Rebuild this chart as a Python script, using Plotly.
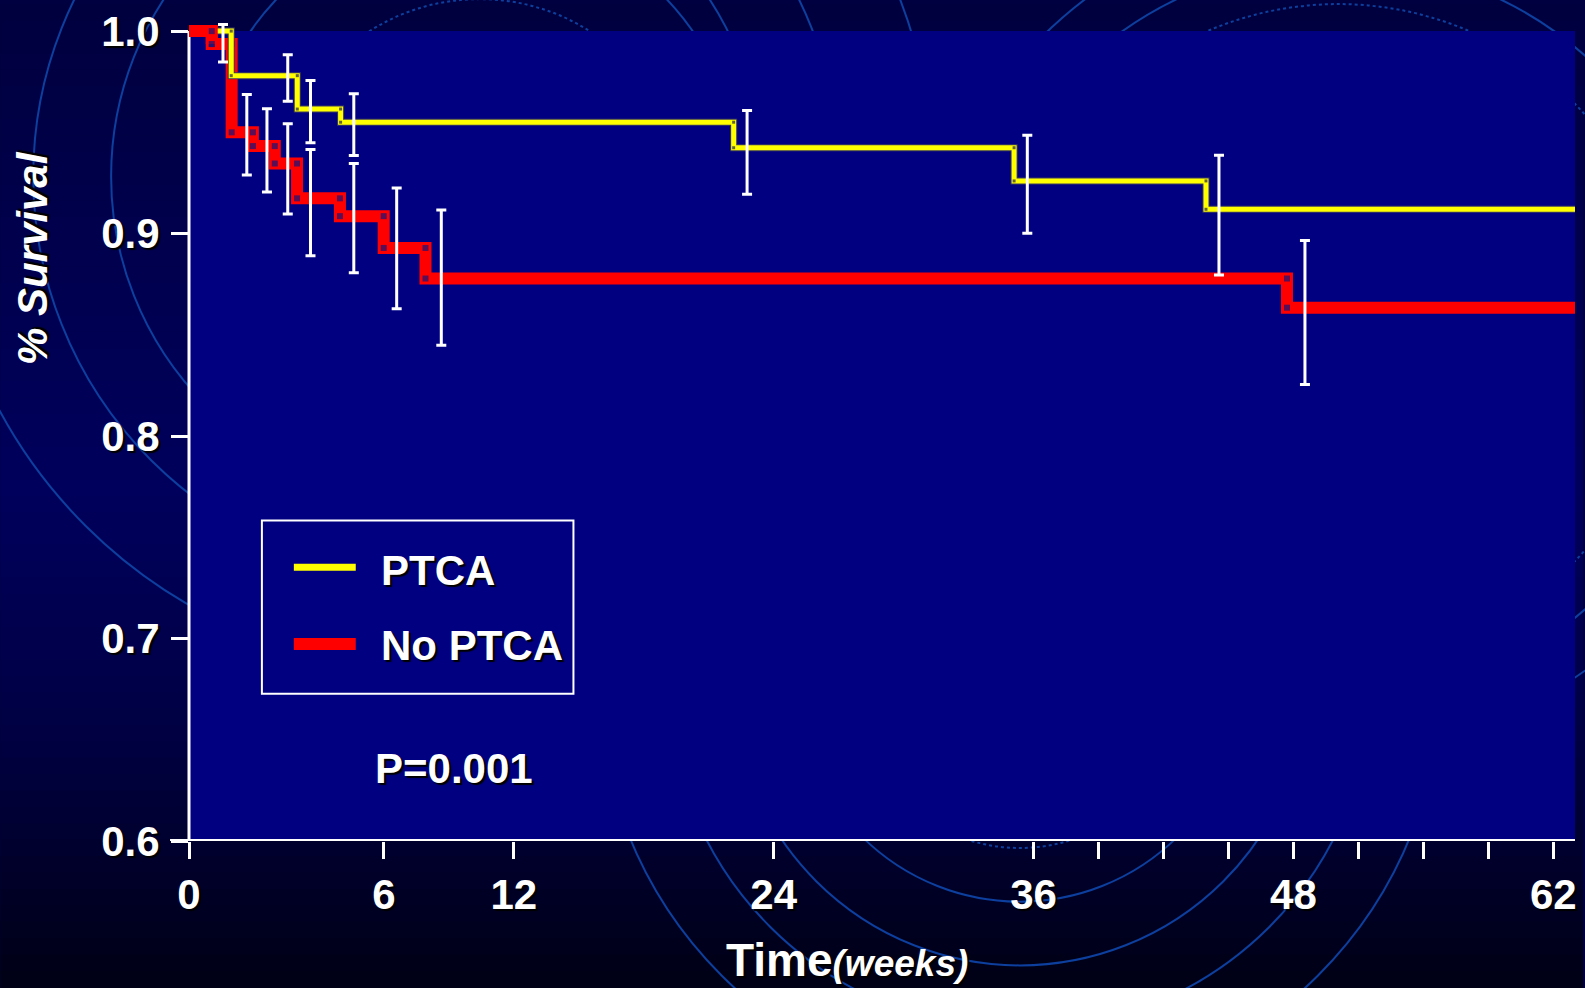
import plotly.graph_objects as go

# ---------------- DATA ----------------
# Time is given in the slide's own (linear) axis units: tick labels
# "0, 6, 12, 24, 36, 48, 62" sit at positions 0, 9, 15, 27, 39, 51, 63.
ptca_time = [1.95, 5.0, 7.0, 25.15, 38.1, 46.96]
ptca_surv = [0.978, 0.9615, 0.955, 0.9424, 0.926, 0.912]

noptca_time = [1.05, 1.97, 2.95, 3.96, 4.99, 6.97, 8.99, 10.92, 50.7]
noptca_surv = [0.9936, 0.950, 0.9432, 0.9346, 0.9174, 0.9086, 0.8929, 0.8778, 0.8634]

follow_up_end = 64

ptca_err_time = [4.56, 5.61, 7.61, 25.77, 38.71, 47.56]
ptca_err_center = [0.9768, 0.9602, 0.9538, 0.9401, 0.9244, 0.9091]
ptca_err_half = [0.0115, 0.0154, 0.0152, 0.0207, 0.0242, 0.0296]

noptca_err_time = [1.57, 2.67, 3.60, 4.56, 5.61, 7.61, 9.59, 11.65, 51.53]
noptca_err_center = [0.994, 0.9488, 0.9411, 0.932, 0.9153, 0.9076, 0.8927, 0.8783, 0.861]
noptca_err_half = [0.0092, 0.0199, 0.0206, 0.0223, 0.0262, 0.027, 0.0298, 0.0334, 0.0356]

x_tick_pos = [0, 9, 15, 27, 39, 42, 45, 48, 51, 54, 57, 60, 63]
x_tick_text = ["0", "6", "12", "24", "36", "", "", "", "48", "", "", "", "62"]
y_tick_vals = [0.6, 0.7, 0.8, 0.9, 1.0]

series_names = ["PTCA", "No PTCA"]
p_value_text = "P=0.001"
y_title = "% Survival"
x_title_main = "Time"
x_title_unit = "(weeks)"

# ---------------- LAYOUT CONSTANTS ----------------
W, H = 1585, 988
ML, MR, MT, MB = 189, 8, 19, 147
PW, PH = W - ML - MR, H - MT - MB
FONT = "Arial, 'Liberation Sans', sans-serif"
SHADOW = "2px 2px 1px #000000"
YELLOW, RED, WHITE = "#FFFF00", "#FF0000", "#FFFFFF"
PLOT_BG = "#000080"
CIRCLE_COL = "#0d3f9e"


def pxx(x):
    return (x - ML) / PW


def pxy(y):
    return (H - MB - y) / PH


def step_xy(times, surv, end):
    xs, ys, prev = [0], [1.0], 1.0
    for t, s in zip(times, surv):
        xs += [t, t]
        ys += [prev, s]
        prev = s
    xs.append(end)
    ys.append(prev)
    return xs, ys


fig = go.Figure()

# No PTCA (thick red)
rx, ry = step_xy(noptca_time, noptca_surv, follow_up_end)
msize_r = [0] + [6] * (len(rx) - 2) + [0]
fig.add_trace(go.Scatter(
    x=rx, y=ry, mode="lines+markers", name=series_names[1],
    line=dict(color=RED, width=12),
    marker=dict(symbol="square", size=msize_r, color="#14147a", line=dict(width=0)),
    showlegend=False, hoverinfo="skip"))

# PTCA (yellow with dark outline)
yx, yy = step_xy(ptca_time, ptca_surv, follow_up_end)
fig.add_trace(go.Scatter(
    x=yx, y=yy, mode="lines", line=dict(color="#3c3c5c", width=7),
    showlegend=False, hoverinfo="skip"))
msize_y = [0] + [3] * (len(yx) - 2) + [0]
fig.add_trace(go.Scatter(
    x=yx, y=yy, mode="lines+markers", name=series_names[0],
    line=dict(color=YELLOW, width=5),
    marker=dict(symbol="square", size=msize_y, color="#20205a", line=dict(width=0)),
    showlegend=False, hoverinfo="skip"))

# red initial plateau drawn on top (as in the slide)
fig.add_trace(go.Scatter(
    x=rx[:3], y=ry[:3], mode="lines+markers",
    line=dict(color=RED, width=12),
    marker=dict(symbol="square", size=[0, 6, 6], color="#14147a", line=dict(width=0)),
    showlegend=False, hoverinfo="skip"))

# Error bars
for et, ec, eh in [(noptca_err_time, noptca_err_center, noptca_err_half),
                   (ptca_err_time, ptca_err_center, ptca_err_half)]:
    fig.add_trace(go.Scatter(
        x=et, y=ec, mode="markers",
        marker=dict(size=1, color="rgba(0,0,0,0)"),
        error_y=dict(type="data", array=eh, symmetric=True, color=WHITE,
                     thickness=3, width=5),
        showlegend=False, hoverinfo="skip"))

# ---------------- BACKGROUND SHAPES ----------------
shapes = []
stops = [(0.0, (0, 0, 62)), (0.5, (0, 0, 92)), (0.75, (0, 0, 66)), (1.0, (0, 0, 20))]
N = 60
for i in range(N):
    f = (i + 0.5) / N
    for j in range(len(stops) - 1):
        if stops[j][0] <= f <= stops[j + 1][0]:
            a, ca = stops[j]
            b, cb = stops[j + 1]
            t = (f - a) / (b - a)
            col = tuple(int(round(ca[k] + (cb[k] - ca[k]) * t)) for k in range(3))
            break
    y0 = H * i / N
    y1 = H * (i + 1) / N + 1
    shapes.append(dict(type="rect", xref="paper", yref="paper", layer="below",
                       x0=pxx(0), x1=pxx(W), y0=pxy(y1), y1=pxy(y0),
                       fillcolor="rgb(%d,%d,%d)" % col, line=dict(width=0)))

# decorative concentric circles (cx, cy, r, dash) in pixels
circles = [
    (437, 173, 326, "solid"), (437, 173, 404, "solid"), (437, 173, 497, "solid"),
    (472, 180, 269, "solid"), (480, 200, 205, "dot"),
    (1021, 678, 224, "solid"), (1021, 678, 288, "solid"), (1021, 678, 353, "solid"),
    (1021, 678, 422, "solid"), (1021, 678, 170, "dot"),
    (1340, 330, 330, "dot"), (1340, 330, 372, "solid"), (1340, 330, 420, "solid"),
]
for cx, cy, r, dash in circles:
    shapes.append(dict(type="circle", xref="paper", yref="paper", layer="below",
                       x0=pxx(cx - r), x1=pxx(cx + r), y0=pxy(cy + r), y1=pxy(cy - r),
                       line=dict(color=CIRCLE_COL, width=2, dash=dash)))

# plot area
shapes.append(dict(type="rect", xref="paper", yref="y", layer="below",
                   x0=0, x1=1, y0=0.6, y1=1.0, fillcolor=PLOT_BG, line=dict(width=0)))
# axis lines
shapes.append(dict(type="line", xref="paper", yref="y", layer="below",
                   x0=0, x1=0, y0=0.6, y1=1.0, line=dict(color=WHITE, width=3)))
shapes.append(dict(type="line", xref="paper", yref="y", layer="below",
                   x0=pxx(170), x1=1, y0=0.6, y1=0.6, line=dict(color=WHITE, width=4)))

# legend (box + samples)
shapes.append(dict(type="rect", xref="paper", yref="paper", layer="above",
                   x0=pxx(262), x1=pxx(574), y0=pxy(693), y1=pxy(519),
                   line=dict(color=WHITE, width=2), fillcolor="rgba(0,0,0,0)"))
shapes.append(dict(type="line", xref="paper", yref="paper", layer="above",
                   x0=pxx(294), x1=pxx(356), y0=pxy(566), y1=pxy(566),
                   line=dict(color=YELLOW, width=7)))
shapes.append(dict(type="line", xref="paper", yref="paper", layer="above",
                   x0=pxx(294), x1=pxx(356), y0=pxy(643), y1=pxy(643),
                   line=dict(color=RED, width=12)))

tfont = dict(family=FONT, size=42, color=WHITE, weight="bold", shadow=SHADOW)
tickfont = dict(family=FONT, size=42, color=WHITE, weight="bold", shadow=SHADOW)

annotations = [
    dict(text=series_names[0], xref="paper", yref="paper", x=pxx(379), y=pxy(569),
         xanchor="left", yanchor="middle", showarrow=False, font=tfont),
    dict(text=series_names[1], xref="paper", yref="paper", x=pxx(379), y=pxy(645),
         xanchor="left", yanchor="middle", showarrow=False, font=tfont),
    dict(text=p_value_text, xref="paper", yref="paper", x=pxx(454), y=pxy(768),
         xanchor="center", yanchor="middle", showarrow=False, font=tfont),
    dict(text="<i>" + y_title + "</i>", xref="paper", yref="paper", x=pxx(33), y=pxy(255),
         xanchor="center", yanchor="middle", textangle=-90, showarrow=False, font=tfont),
    dict(text=x_title_main + "<i><span style='font-size:37px'>" + x_title_unit + "</span></i>",
         xref="paper", yref="paper", x=pxx(848), y=pxy(961),
         xanchor="center", yanchor="middle", showarrow=False,
         font=dict(family=FONT, size=46, color=WHITE, weight="bold", shadow=SHADOW)),
]

fig.update_layout(
    width=W, height=H, autosize=False,
    margin=dict(l=ML, r=MR, t=MT, b=MB, pad=0),
    paper_bgcolor="#000040", plot_bgcolor="rgba(0,0,0,0)",
    showlegend=False,
    shapes=shapes, annotations=annotations,
    xaxis=dict(range=[0, follow_up_end], showgrid=False, zeroline=False, showline=False,
               tickmode="array", tickvals=x_tick_pos, ticktext=x_tick_text,
               ticks="outside", ticklen=17, tickwidth=3, tickcolor=WHITE,
               tickfont=tickfont, fixedrange=True),
    yaxis=dict(range=[0.6, 1.004], showgrid=False, zeroline=False, showline=False,
               tickmode="array", tickvals=y_tick_vals, tickformat=".1f",
               ticks="outside", ticklen=17, tickwidth=3, tickcolor=WHITE,
               tickfont=tickfont, ticklabelstandoff=3, fixedrange=True),
)

fig.write_html("out.html", config={"displayModeBar": False},
               post_script="document.body.style.margin='0';document.body.style.overflow='hidden';")
